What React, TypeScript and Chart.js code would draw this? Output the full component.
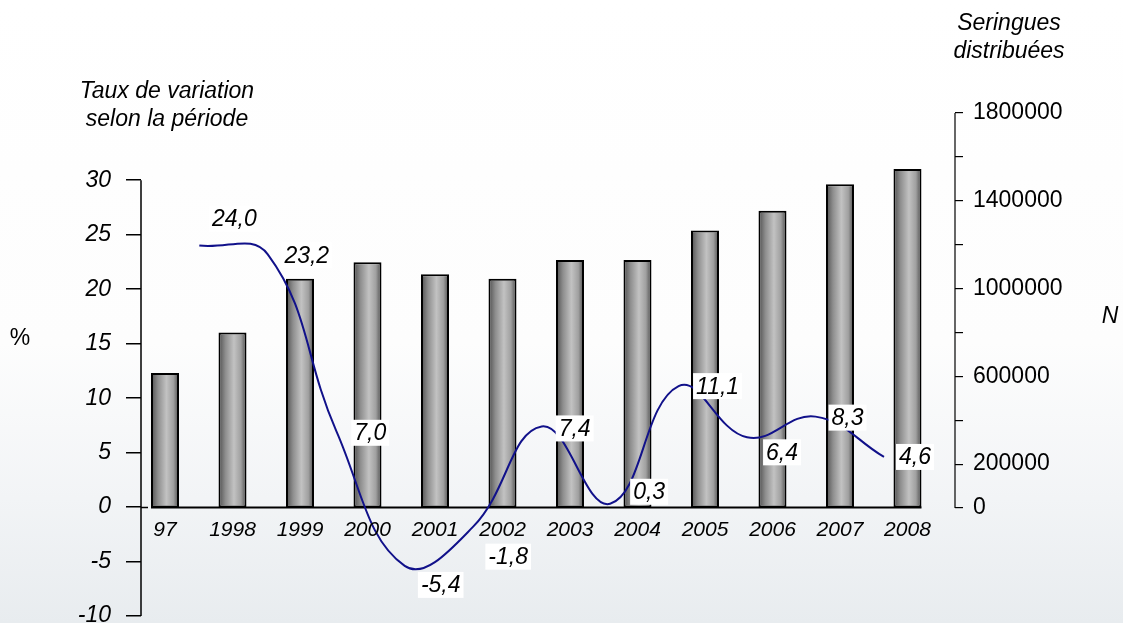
import React, { useEffect, useRef } from 'react';
import { Chart, registerables } from 'chart.js';

Chart.register(...registerables);

// ---- data ----
const YEARS = ['97', '1998', '1999', '2000', '2001', '2002', '2003', '2004', '2005', '2006', '2007', '2008'];
const SYRINGES = [615000, 800000, 1045000, 1120000, 1065000, 1045000, 1130000, 1130000, 1265000, 1355000, 1475000, 1545000];
const PERIODS = ['97-98', '98-99', '99-00', '00-01', '01-02', '02-03', '03-04', '04-05', '05-06', '06-07', '07-08'];
const VARIATION = [24.0, 23.2, 7.0, -5.4, -1.8, 7.4, 0.3, 11.1, 6.4, 8.3, 4.6];
const LEFT_TICKS = [-10, -5, 0, 5, 10, 15, 20, 25, 30];
const RIGHT_TICKS = [0, 200000, 400000, 600000, 800000, 1000000, 1200000, 1400000, 1600000, 1800000];
const RIGHT_TICK_LABELS = ['0', '200000', '', '600000', '', '1000000', '', '1400000', '', '1800000'];
// label placement nudges relative to the line point (px)
const LABEL_NUDGE = [[35, -27], [39, 1], [34, 2], [36, 19], [35, 30], [33, 2], [39, -12], [39, 0], [35, 15], [32, 1], [31, 0]];

const FONT = '"Liberation Sans", Arial, sans-serif';
const LINE_COLOR = '#11118a';
const BAR_W = 28;

const fmt = (v: number) => v.toFixed(1).replace('.', ',');

const overlay = {
  id: 'overlay',
  beforeDatasetsDraw(chart: any) {
    const ctx = chart.ctx;
    const yL = chart.scales.yL;
    const bars = chart.getDatasetMeta(0).data;
    const y0 = Math.round(yL.getPixelForValue(0)) + 0.5;
    const first = bars[0];
    const last = bars[bars.length - 1];
    ctx.save();
    ctx.strokeStyle = '#000';
    ctx.lineWidth = 2;
    ctx.beginPath();
    ctx.moveTo(first.x - first.width / 2, y0);
    ctx.lineTo(last.x + last.width / 2, y0);
    ctx.stroke();
    ctx.restore();
  },
  afterDatasetsDraw(chart: any) {
    const ctx = chart.ctx;
    const { left, right } = chart.chartArea;
    const yL = chart.scales.yL;
    const yR = chart.scales.yR;
    const y0 = yL.getPixelForValue(0);
    ctx.save();
    // axis lines
    ctx.strokeStyle = '#000';
    ctx.lineWidth = 1.5;
    ctx.beginPath();
    ctx.moveTo(left, yL.getPixelForValue(LEFT_TICKS[LEFT_TICKS.length - 1]));
    ctx.lineTo(left, yL.getPixelForValue(LEFT_TICKS[0]));
    ctx.moveTo(left, Math.round(y0) + 0.5);
    ctx.lineTo(left + 7, Math.round(y0) + 0.5);
    ctx.stroke();
    ctx.lineWidth = 1.2;
    ctx.beginPath();
    ctx.moveTo(right, yR.getPixelForValue(RIGHT_TICKS[RIGHT_TICKS.length - 1]));
    ctx.lineTo(right, yR.getPixelForValue(RIGHT_TICKS[0]));
    ctx.stroke();

    // category labels under the zero line
    const bars = chart.getDatasetMeta(0).data;
    ctx.fillStyle = '#000';
    ctx.font = `italic 21px ${FONT}`;
    ctx.textAlign = 'center';
    ctx.textBaseline = 'middle';
    bars.forEach((b: any, i: number) => {
      ctx.fillText(YEARS[i], b.x, y0 + 23);
    });

    // value labels on the line
    const pts = chart.getDatasetMeta(1).data;
    ctx.font = `italic 23px ${FONT}`;
    pts.forEach((p: any, i: number) => {
      const txt = fmt(VARIATION[i]);
      const cx = p.x + LABEL_NUDGE[i][0];
      const cy = p.y + LABEL_NUDGE[i][1];
      const w = ctx.measureText(txt).width;
      ctx.fillStyle = '#ffffff';
      ctx.fillRect(cx - w / 2 - 3, cy - 13, w + 6, 26);
      ctx.fillStyle = '#000';
      ctx.fillText(txt, cx, cy + 1);
    });
    ctx.restore();
  },
  afterDraw(chart: any) {
    const ctx = chart.ctx;
    ctx.save();
    ctx.fillStyle = '#000';
    ctx.textAlign = 'center';
    ctx.textBaseline = 'middle';
    ctx.font = `italic 23px ${FONT}`;
    ctx.fillText('Taux de variation', 167, 92);
    ctx.fillText('selon la période', 167, 120);
    ctx.fillText('Seringues', 1009, 24);
    ctx.fillText('distribuées', 1009, 52);
    ctx.fillText('N', 1110, 317);
    ctx.font = `23px ${FONT}`;
    ctx.fillText('%', 20, 339);
    ctx.restore();
  },
};

export default function App() {
  const ref = useRef<HTMLCanvasElement | null>(null);

  useEffect(() => {
    if (!ref.current) return;
    const chart = new Chart(ref.current, {
      data: {
        datasets: [
          {
            type: 'bar',
            label: 'Seringues distribuées',
            data: SYRINGES.map((v, i) => ({ x: i, y: v })),
            xAxisID: 'x',
            yAxisID: 'yR',
            order: 2,
            grouped: false,
            categoryPercentage: 1,
            barPercentage: 0.415,
            borderColor: '#000',
            borderWidth: 2,
            borderSkipped: false,
            backgroundColor: (c: any) => {
              const chart = c.chart;
              const xs = chart.scales && chart.scales.x;
              if (!xs || c.dataIndex === undefined || !chart.chartArea) return '#999';
              const cx = xs.getPixelForValue(c.dataIndex);
              const g = chart.ctx.createLinearGradient(cx - BAR_W / 2, 0, cx + BAR_W / 2, 0);
              g.addColorStop(0, '#4e4e4e');
              g.addColorStop(0.25, '#8e8e8e');
              g.addColorStop(0.55, '#c2c2c2');
              g.addColorStop(0.8, '#a0a0a0');
              g.addColorStop(1, '#4a4a4a');
              return g;
            },
          } as any,
          {
            type: 'line',
            label: 'Taux de variation',
            data: VARIATION.map((v, i) => ({ x: i, y: v, period: PERIODS[i] })),
            xAxisID: 'xl',
            yAxisID: 'yL',
            order: 1,
            borderColor: LINE_COLOR,
            borderWidth: 2,
            pointRadius: 0,
            tension: 0.42,
            fill: false,
          } as any,
        ],
      },
      options: {
        responsive: false,
        animation: false,
        layout: { padding: { top: 113, bottom: 7, left: 0, right: 0 } },
        plugins: {
          legend: { display: false },
          tooltip: { enabled: false },
          title: { display: false },
        },
        scales: {
          x: { type: 'linear', display: false, offset: false, min: -0.3556, max: 11.704 },
          xl: { type: 'linear', display: false, offset: false, min: -0.8515, max: 11.037 },
          yL: {
            type: 'linear',
            position: 'left',
            min: -10,
            max: 36.17,
            afterBuildTicks: (s: any) => {
              s.ticks = LEFT_TICKS.map((v) => ({ value: v }));
            },
            afterFit: (s: any) => {
              s.width = 141;
              s.paddingTop = 0;
              s.paddingBottom = 0;
            },
            border: { display: false },
            grid: { drawOnChartArea: false, drawTicks: true, tickLength: 15, color: '#000', lineWidth: 1.5 },
            ticks: {
              padding: 15,
              color: '#000',
              font: { family: FONT, size: 23, style: 'italic' },
              callback: (v: any) => String(v),
            },
          },
          yR: {
            type: 'linear',
            position: 'right',
            min: -492000,
            max: 1800000,
            afterBuildTicks: (s: any) => {
              s.ticks = RIGHT_TICKS.map((v) => ({ value: v }));
            },
            afterFit: (s: any) => {
              s.width = 168;
              s.paddingTop = 0;
              s.paddingBottom = 0;
            },
            border: { display: false },
            grid: { drawOnChartArea: false, drawTicks: true, tickLength: 8, color: '#000', lineWidth: 1.2 },
            ticks: {
              padding: 10,
              color: '#000',
              font: { family: FONT, size: 23 },
              callback: (_v: any, i: number) => RIGHT_TICK_LABELS[i],
            },
          },
        },
      } as any,
      plugins: [overlay],
    });
    return () => chart.destroy();
  }, []);

  return (
    <div
      style={{
        position: 'absolute',
        left: 0,
        top: 0,
        width: 1123,
        height: 623,
        background: 'linear-gradient(180deg, #ffffff 0%, #fdfdfd 55%, #f2f4f6 80%, #e8ecef 100%)',
      }}
    >
      <canvas ref={ref} width={1123} height={623} style={{ display: 'block' }} />
    </div>
  );
}
